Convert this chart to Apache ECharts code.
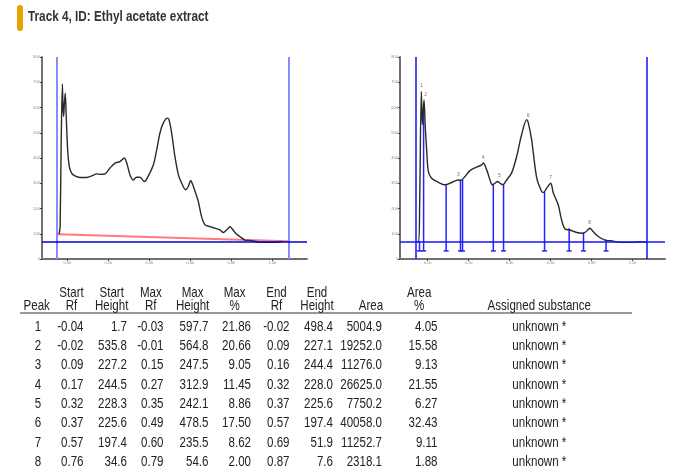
<!DOCTYPE html>
<html>
<head>
<meta charset="utf-8">
<script src="https://cdn.jsdelivr.net/npm/echarts@6/dist/echarts.min.js"></script>
<style>
html,body{margin:0;padding:0;background:#fff;}
#chart{width:682px;height:471px;}
</style>
</head>
<body>
<div id="chart"></div>
<script>
// ---------- DATA ----------
const titleText = 'Track 4, ID: Ethyl acetate extract';
const yTicks = [0, 100, 200, 300, 400, 500, 600, 700, 800];
const xTicks = [0, 0.2, 0.4, 0.6, 0.8, 1.0];

// Raw densitogram (left panel): [Rf, AU]
const curveRaw = [
  [-0.040, 98], [-0.035, 130], [-0.030, 450], [-0.024, 693], [-0.021, 600], [-0.018, 565],
  [-0.014, 620], [-0.010, 657], [-0.005, 560], [0.002, 430], [0.010, 366], [0.021, 340],
  [0.037, 329], [0.062, 323], [0.095, 323], [0.119, 329], [0.143, 337], [0.160, 335],
  [0.184, 337], [0.208, 360], [0.233, 380], [0.257, 386], [0.278, 400], [0.290, 380],
  [0.306, 333], [0.322, 313], [0.338, 324], [0.354, 324], [0.376, 307], [0.398, 333],
  [0.420, 373], [0.436, 432], [0.452, 499], [0.468, 538], [0.488, 558], [0.496, 552],
  [0.509, 499], [0.525, 406], [0.542, 333], [0.558, 300], [0.577, 274], [0.590, 287],
  [0.602, 311], [0.612, 294], [0.626, 261], [0.639, 228], [0.655, 168], [0.672, 135],
  [0.696, 128], [0.720, 122], [0.745, 115], [0.761, 105], [0.777, 115], [0.794, 128],
  [0.805, 119], [0.821, 102], [0.842, 89], [0.867, 75], [0.899, 73], [0.932, 67],
  [0.964, 66], [0.997, 66], [1.029, 67], [1.046, 69]
];
// Baseline-corrected densitogram (right panel): [Rf, AU]
const curveCorr = [
  [-0.054, 69], [-0.044, 69], [-0.039, 234], [-0.031, 664], [-0.026, 532], [-0.018, 631],
  [-0.012, 525], [-0.005, 432], [0.003, 347], [0.019, 320], [0.044, 307], [0.084, 294],
  [0.117, 303], [0.150, 313], [0.161, 311], [0.182, 327], [0.206, 350], [0.239, 364],
  [0.263, 373], [0.271, 380], [0.288, 353], [0.304, 313], [0.315, 294], [0.328, 300],
  [0.341, 307], [0.353, 300], [0.367, 294], [0.385, 313], [0.409, 340], [0.434, 406],
  [0.458, 492], [0.483, 552], [0.491, 538], [0.507, 472], [0.532, 320], [0.556, 267],
  [0.564, 263], [0.580, 280], [0.600, 300], [0.613, 261], [0.637, 214], [0.653, 155],
  [0.670, 119], [0.694, 115], [0.727, 105], [0.756, 102], [0.772, 108], [0.791, 122],
  [0.808, 108], [0.832, 89], [0.865, 75], [0.906, 71], [0.938, 66], [1.003, 66],
  [1.044, 69], [1.071, 65]
];
const baselineLeft = [[-0.045, 98], [1.08, 70]];
const levelLine = 70;
const leftFrontLines = [-0.049, 1.08];
const rightFrontLines = [-0.057, 1.071];
const markerBottom = 32;

// Peak table
const peakNo      = [1, 2, 3, 4, 5, 6, 7, 8];
const startRf     = [-0.04, -0.02, 0.09, 0.17, 0.32, 0.37, 0.57, 0.76];
const startHeight = [1.7, 535.8, 227.2, 244.5, 228.3, 225.6, 197.4, 34.6];
const maxRf       = [-0.03, -0.01, 0.15, 0.27, 0.35, 0.49, 0.60, 0.79];
const maxHeight   = [597.7, 564.8, 247.5, 312.9, 242.1, 478.5, 235.5, 54.6];
const maxPct      = [21.86, 20.66, 9.05, 11.45, 8.86, 17.50, 8.62, 2.00];
const endRf       = [-0.02, 0.09, 0.16, 0.32, 0.37, 0.57, 0.69, 0.87];
const endHeight   = [498.4, 227.1, 244.4, 228.0, 225.6, 197.4, 51.9, 7.6];
const area        = [5004.9, 19252.0, 11276.0, 26625.0, 7750.2, 40058.0, 11252.7, 2318.1];
const areaPct     = [4.05, 15.58, 9.13, 21.55, 6.27, 32.43, 9.11, 1.88];
const substance   = ['unknown *', 'unknown *', 'unknown *', 'unknown *', 'unknown *', 'unknown *', 'unknown *', 'unknown *'];

const FONT = '"Liberation Sans", Arial, sans-serif';
const NARROW = 0.77;

function xAxisCfg(gi, min, max) {
  return {
    type: 'value', gridIndex: gi, min: min, max: max,
    splitLine: { show: false },
    axisLine: { show: true, onZero: false, lineStyle: { color: '#707070', width: 2 } },
    axisTick: { show: true, length: 2, customValues: xTicks, lineStyle: { color: '#444', width: 1 } },
    axisLabel: { show: true, customValues: xTicks, fontSize: 4, color: '#8a8a8a', margin: 2,
      formatter: v => v.toFixed(2) }
  };
}
function yAxisCfg(gi) {
  return {
    type: 'value', gridIndex: gi, min: 0, max: 800, interval: 100,
    splitLine: { show: false },
    axisLine: { show: true, onZero: false, lineStyle: { color: '#707070', width: 2 } },
    axisTick: { show: true, length: 2, lineStyle: { color: '#444', width: 1 } },
    axisLabel: { show: true, fontSize: 4, color: '#8a8a8a', margin: 2 }
  };
}

// ---------- TABLE GRAPHICS ----------
const graphics = [];
graphics.push({ type: 'rect', shape: { x: 17, y: 5, width: 6, height: 26, r: 3 }, style: { fill: '#E8A202' } });
graphics.push({ type: 'text', x: 28, y: 17, scaleX: 0.84, style: { text: titleText, font: 'bold 14px ' + FONT, fill: '#333', align: 'left', verticalAlign: 'middle' } });

const headerY1 = 292.7, headerY2 = 306, rowY0 = 326.7, rowStep = 19.3;
const cols = [
  { h1: '',      h2: 'Peak',   hx: 36.7,  vx: 38,    va: 'center', vals: peakNo.map(String) },
  { h1: 'Start', h2: 'Rf',     hx: 71.5,  vx: 83.5,  va: 'right',  vals: startRf.map(v => v.toFixed(2)) },
  { h1: 'Start', h2: 'Height', hx: 111.7, vx: 127,   va: 'right',  vals: startHeight.map(v => v.toFixed(1)) },
  { h1: 'Max',   h2: 'Rf',     hx: 150.8, vx: 163.5, va: 'right',  vals: maxRf.map(v => v.toFixed(2)) },
  { h1: 'Max',   h2: 'Height', hx: 192.6, vx: 208.5, va: 'right',  vals: maxHeight.map(v => v.toFixed(1)) },
  { h1: 'Max',   h2: '%',      hx: 234.6, vx: 251,   va: 'right',  vals: maxPct.map(v => v.toFixed(2)) },
  { h1: 'End',   h2: 'Rf',     hx: 276.5, vx: 289.5, va: 'right',  vals: endRf.map(v => v.toFixed(2)) },
  { h1: 'End',   h2: 'Height', hx: 317,   vx: 333,   va: 'right',  vals: endHeight.map(v => v.toFixed(1)) },
  { h1: '',      h2: 'Area',   hx: 371,   vx: 382,   va: 'right',  vals: area.map(v => v.toFixed(1)) },
  { h1: 'Area',  h2: '%',      hx: 419.2, vx: 437.5, va: 'right',  vals: areaPct.map(v => v.toFixed(2)) },
  { h1: '',      h2: 'Assigned substance', hx: 539.3, vx: 539.3, va: 'center', vals: substance }
];
const tfont = '15px ' + FONT;
function txt(x, y, text, align) {
  return { type: 'text', x: x, y: y, scaleX: NARROW, style: { text: text, font: tfont, fill: '#222', align: align, verticalAlign: 'middle' } };
}
cols.forEach(c => {
  if (c.h1) graphics.push(txt(c.hx, headerY1, c.h1, 'center'));
  graphics.push(txt(c.hx, headerY2, c.h2, 'center'));
  c.vals.forEach((v, i) => graphics.push(txt(c.vx, rowY0 + i * rowStep, v, c.va)));
});
graphics.push({ type: 'line', shape: { x1: 20, y1: 313, x2: 632, y2: 313 }, style: { stroke: '#333', lineWidth: 1.2 } });

// ---------- SERIES ----------
// Peak boundary markers in the integrated panel: heights above the level line, from the table
const boundaries = [];
startRf.forEach((v, i) => boundaries.push([v, startHeight[i] + levelLine, markerBottom]));
endRf.forEach((v, i) => { if (!startRf.includes(v)) boundaries.push([v, endHeight[i] + levelLine, markerBottom]); });
const peakLabels = maxRf.map((v, i) => ({ value: [v, maxHeight[i] + levelLine], name: String(peakNo[i]) }));

const option = {
  animation: false,
  backgroundColor: '#fff',
  grid: [
    { left: 42, top: 57, width: 265, height: 202, containLabel: false },
    { left: 400, top: 57, width: 265, height: 202, containLabel: false }
  ],
  xAxis: [xAxisCfg(0, -0.1234, 1.1693), xAxisCfg(1, -0.1351, 1.1576)],
  yAxis: [yAxisCfg(0), yAxisCfg(1)],
  graphic: graphics,
  series: [
    {
      type: 'line', xAxisIndex: 0, yAxisIndex: 0, data: baselineLeft, symbol: 'none',
      lineStyle: { color: '#ff7a7a', width: 2 }, z: 3,
      markLine: {
        silent: true, symbol: ['none', 'none'], label: { show: false },
        data: [
          { xAxis: leftFrontLines[0], lineStyle: { color: '#8a8aff', width: 2, type: 'solid' } },
          { xAxis: leftFrontLines[1], lineStyle: { color: '#8a8aff', width: 2, type: 'solid' } },
          { yAxis: levelLine, lineStyle: { color: '#0000cc', width: 1.5, type: 'solid' } }
        ]
      }
    },
    {
      type: 'line', xAxisIndex: 0, yAxisIndex: 0, data: curveRaw, symbol: 'none', smooth: 0.3,
      lineStyle: { color: '#2a2a2a', width: 1.4 }, z: 4
    },
    {
      type: 'custom', xAxisIndex: 1, yAxisIndex: 1, data: boundaries, z: 2,
      renderItem: function (params, api) {
        const top = api.coord([api.value(0), api.value(1)]);
        const bot = api.coord([api.value(0), api.value(2)]);
        const st = { stroke: '#2424ff', lineWidth: 1.5 };
        return {
          type: 'group', children: [
            { type: 'line', shape: { x1: top[0], y1: top[1], x2: bot[0], y2: bot[1] }, style: st },
            { type: 'line', shape: { x1: bot[0] - 2.5, y1: bot[1], x2: bot[0] + 2.5, y2: bot[1] }, style: st }
          ]
        };
      }
    },
    {
      type: 'line', xAxisIndex: 1, yAxisIndex: 1, data: curveCorr, symbol: 'none', smooth: 0.3,
      lineStyle: { color: '#2a2a2a', width: 1.4 }, z: 4,
      markLine: {
        silent: true, symbol: ['none', 'none'], label: { show: false },
        data: [
          { xAxis: rightFrontLines[0], lineStyle: { color: '#1010ff', width: 1.5, type: 'solid' } },
          { xAxis: rightFrontLines[1], lineStyle: { color: '#1010ff', width: 1.5, type: 'solid' } },
          { yAxis: levelLine, lineStyle: { color: '#1414ff', width: 1.5, type: 'solid' } }
        ]
      }
    },
    {
      type: 'scatter', xAxisIndex: 1, yAxisIndex: 1, data: peakLabels, symbolSize: 0, z: 5,
      labelLayout: { hideOverlap: false },
      label: { show: true, position: 'top', distance: 2, fontSize: 5, color: '#9a3030', formatter: p => p.name }
    }
  ]
};

const chart = echarts.init(document.getElementById('chart'), null, { renderer: 'canvas' });
chart.setOption(option);
</script>
</body>
</html>
